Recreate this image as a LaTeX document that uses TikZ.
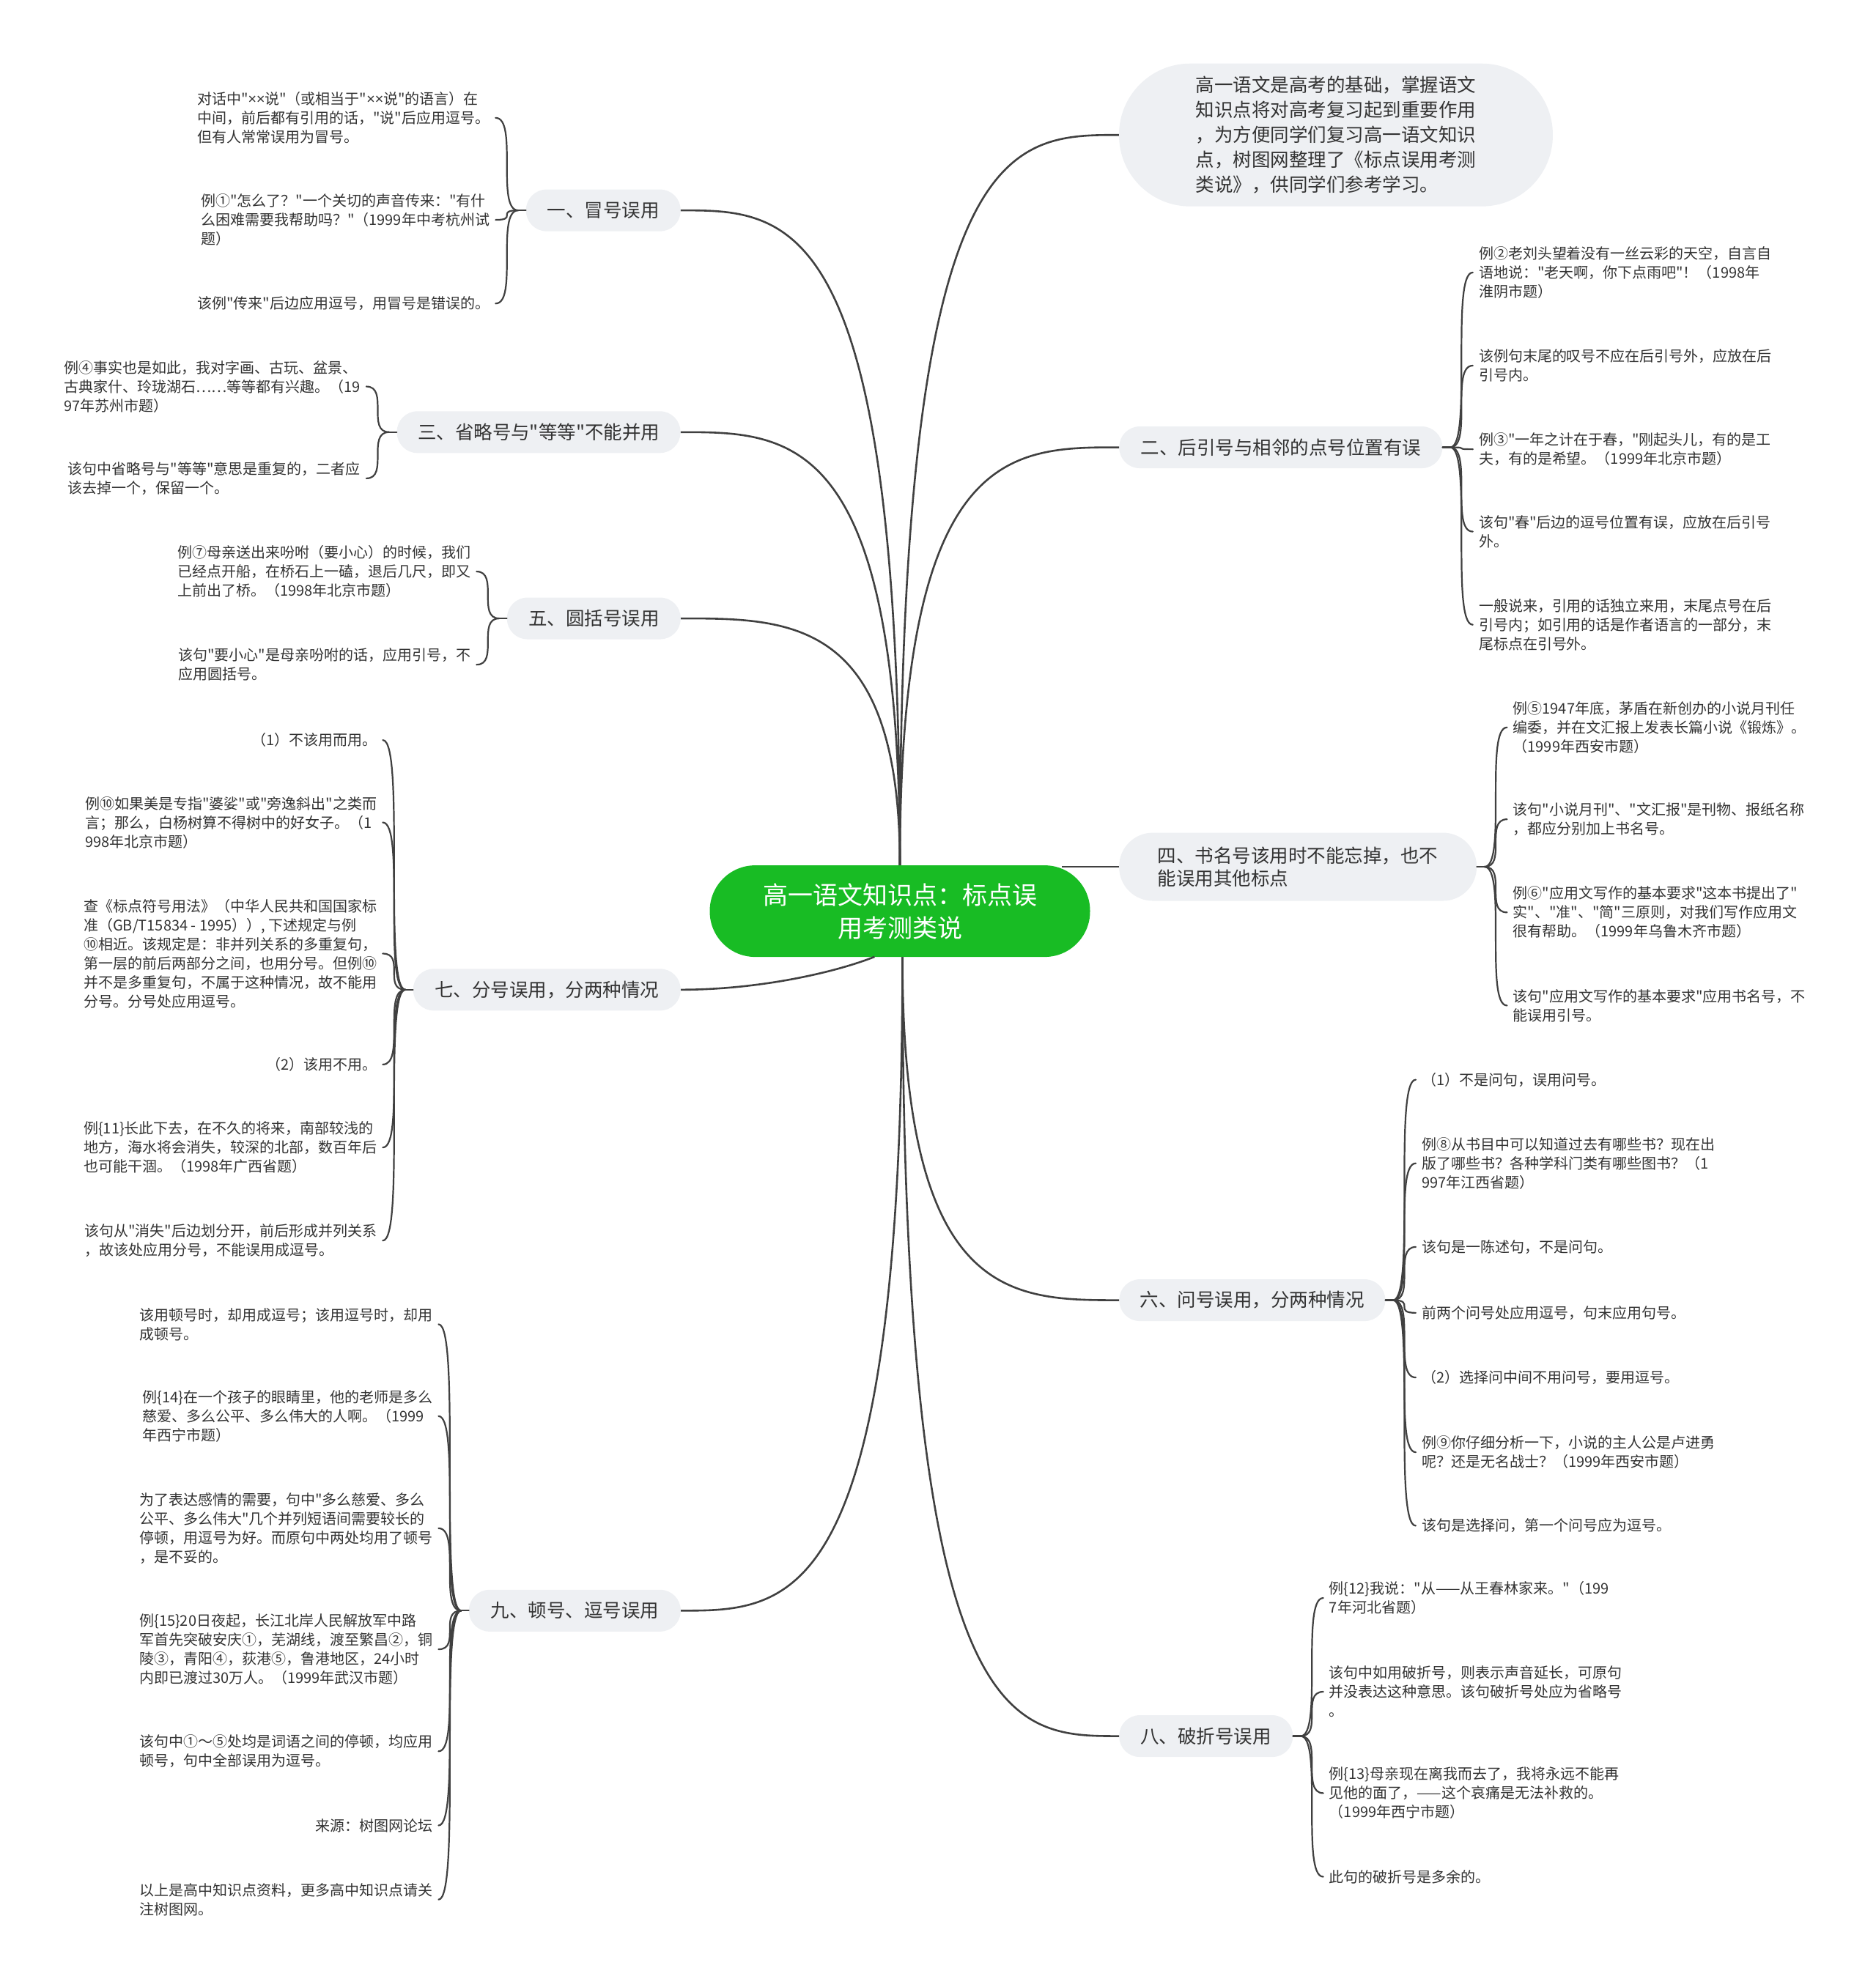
\documentclass[tikz,border=0pt]{standalone}
\usepackage{fontspec}
\newfontfamily\cjk{Noto Sans CJK SC}
\newfontfamily\latn{Noto Sans}
\usetikzlibrary{calc}
\definecolor{txt}{HTML}{333333}
\definecolor{pillbg}{HTML}{EEF0F3}
\definecolor{lnc}{HTML}{404040}
\definecolor{cgreen}{RGB}{24,188,36}
\newcommand\mbranch[2]{\draw[mainln] (#1) .. controls (#1 |- #2) and ($(#1 |- #2)!0.5!(#2)$) .. (#2);}
\newcommand\brkto[2]{\draw[brkln] (#1) .. controls (#2 |- #1) and (#1 |- #2) .. (#2);}
\newcommand\xx{{\latn ××}}
\begin{document}
\begin{tikzpicture}[x=1.7297pt,y=-1.7297pt,
  leaf/.style={font=\cjk\fontsize{20}{26}\selectfont, text=txt, align=left, inner xsep=8pt, inner ysep=0pt},
  leafl/.style={leaf, anchor=east},
  leafr/.style={leaf, anchor=west},
  pill/.style={fill=pillbg, rounded corners=28pt, minimum height=57pt, inner sep=0pt, align=center, font=\cjk\fontsize{25.5}{31}\selectfont, text=txt},
  cpill/.style={fill=cgreen, rounded corners=62pt, minimum height=125pt, minimum width=519pt, inner sep=0pt, align=center, font=\cjk\fontsize{34}{45}\selectfont, text=white},
  mainln/.style={draw=lnc, line width=2.6pt},
  brkln/.style={draw=lnc, line width=2.2pt, line cap=round}]
\useasboundingbox (0,0) rectangle (1480,1568);

% center
\node[cpill] (c) at (710,719) {高一语文知识点：标点误\\用考测类说};
\coordinate (ctop) at (c.north);
\coordinate (cbot) at ($(c.south)+(2,0)$);
\coordinate (c7) at (690,755);
\coordinate (c4) at (838,684);

% branch nodes
\node[pill, minimum width=211pt] (b1) at (476,166) {一、冒号误用};
\node[pill, minimum width=387pt] (b3) at (425,341) {三、省略号与"等等"不能并用};
\node[pill, minimum width=237pt] (b5) at (468.5,488) {五、圆括号误用};
\node[pill, minimum width=365pt] (b7) at (431.5,781) {七、分号误用，分两种情况};
\node[pill, minimum width=289pt] (b9) at (453.5,1271) {九、顿号、逗号误用};
\node[pill, minimum width=592pt, minimum height=195pt, rounded corners=97pt, align=left, font=\cjk\fontsize{25.5}{34}\selectfont] (intro) at (1054,106.5) {高一语文是高考的基础，掌握语文\\知识点将对高考复习起到重要作用\\，为方便同学们复习高一语文知识\\点，树图网整理了《标点误用考测\\类说》，供同学们参考学习。};
\node[pill, minimum width=441pt] (b2) at (1010.5,353) {二、后引号与相邻的点号位置有误};
\node[pill, minimum width=488pt, minimum height=93pt, rounded corners=46pt, align=left] (b4) at (1024,684) {四、书名号该用时不能忘掉，也不\\能误用其他标点};
\node[pill, minimum width=363pt] (b6) at (988,1026) {六、问号误用，分两种情况};
\node[pill, minimum width=237pt] (b8) at (951.5,1370) {八、破折号误用};

% main connectors
\mbranch{ctop}{b1.east}
\mbranch{ctop}{b3.east}
\mbranch{ctop}{b5.east}
\mbranch{ctop}{intro.west}
\mbranch{ctop}{b2.west}
\mbranch{cbot}{b6.west}
\mbranch{cbot}{b8.west}
\mbranch{cbot}{b9.east}
\draw[mainln] (c7) .. controls (660,767) and (600,781) .. (b7.east);
\draw[mainln] (c4) -- (b4.west);

% ---- group 1
\node[leafl] (l1a) at (391,93) {对话中"\xx 说"（或相当于"\xx 说"的语言）在\\中间，前后都有引用的话，"说"后应用逗号。\\但有人常常误用为冒号。};
\node[leafl] (l1b) at (391,173.5) {例①"怎么了？"一个关切的声音传来："有什\\么困难需要我帮助吗？"（1999年中考杭州试\\题）};
\node[leafl] (l1c) at (391,239.5) {该例"传来"后边应用逗号，用冒号是错误的。};
\coordinate (j1) at ($(b1.west)+(-6,0)$);
\draw[brkln] (b1.west) -- (j1);
\foreach \n in {l1a,l1b,l1c} {\brkto{j1}{\n.east}}

% ---- group 3
\node[leafl] (l3a) at (289,305) {例④事实也是如此，我对字画、古玩、盆景、\\古典家什、玲珑湖石……等等都有兴趣。（19\\97年苏州市题）};
\node[leafl] (l3b) at (289,377.5) {该句中省略号与"等等"意思是重复的，二者应\\该去掉一个，保留一个。};
\coordinate (j3) at ($(b3.west)+(-6,0)$);
\draw[brkln] (b3.west) -- (j3);
\foreach \n in {l3a,l3b} {\brkto{j3}{\n.east}}

% ---- group 5
\node[leafl] (l5a) at (376,451) {例⑦母亲送出来吩咐（要小心）的时候，我们\\已经点开船，在桥石上一磕，退后几尺，即又\\上前出了桥。（1998年北京市题）};
\node[leafl] (l5b) at (376,524.5) {该句"要小心"是母亲吩咐的话，应用引号，不\\应用圆括号。};
\coordinate (j5) at ($(b5.west)+(-6,0)$);
\draw[brkln] (b5.west) -- (j5);
\foreach \n in {l5a,l5b} {\brkto{j5}{\n.east}}

% ---- group 7
\node[leafl] (l7a) at (302,584) {（1）不该用而用。};
\node[leafl] (l7b) at (302,649) {例⑩如果美是专指"婆娑"或"旁逸斜出"之类而\\言；那么，白杨树算不得树中的好女子。（1\\998年北京市题）};
\node[leafl] (l7c) at (302,752.5) {查《标点符号用法》（中华人民共和国国家标\\准（GB/T15834 - 1995））, 下述规定与例\\⑩相近。该规定是：非并列关系的多重复句，\\第一层的前后两部分之间，也用分号。但例⑩\\并不是多重复句，不属于这种情况，故不能用\\分号。分号处应用逗号。};
\node[leafl] (l7d) at (302,840) {（2）该用不用。};
\node[leafl] (l7e) at (302,905.5) {例\{11\}长此下去，在不久的将来，南部较浅的\\地方，海水将会消失，较深的北部，数百年后\\也可能干涸。（1998年广西省题）};
\node[leafl] (l7f) at (302,979) {该句从"消失"后边划分开，前后形成并列关系\\，故该处应用分号，不能误用成逗号。};
\coordinate (j7) at ($(b7.west)+(-6,0)$);
\draw[brkln] (b7.west) -- (j7);
\foreach \n in {l7a,l7b,l7c,l7d,l7e,l7f} {\brkto{j7}{\n.east}}

% ---- group 9
\node[leafl] (l9a) at (346,1045) {该用顿号时，却用成逗号；该用逗号时，却用\\成顿号。};
\node[leafl] (l9b) at (346,1117.5) {例\{14\}在一个孩子的眼睛里，他的老师是多么\\慈爱、多么公平、多么伟大的人啊。（1999\\年西宁市题）};
\node[leafl] (l9c) at (346,1206) {为了表达感情的需要，句中"多么慈爱、多么\\公平、多么伟大"几个并列短语间需要较长的\\停顿，用逗号为好。而原句中两处均用了顿号\\，是不妥的。};
\node[leafl] (l9d) at (346,1301.5) {例\{15\}20日夜起，长江北岸人民解放军中路\\军首先突破安庆①，芜湖线，渡至繁昌②，铜\\陵③，青阳④，荻港⑤，鲁港地区，24小时\\内即已渡过30万人。（1999年武汉市题）};
\node[leafl] (l9e) at (346,1382) {该句中①～⑤处均是词语之间的停顿，均应用\\顿号，句中全部误用为逗号。};
\node[leafl] (l9f) at (346,1440.5) {来源：树图网论坛};
\node[leafl] (l9g) at (346,1499) {以上是高中知识点资料，更多高中知识点请关\\注树图网。};
\coordinate (j9) at ($(b9.west)+(-6,0)$);
\draw[brkln] (b9.west) -- (j9);
\foreach \n in {l9a,l9b,l9c,l9d,l9e,l9f,l9g} {\brkto{j9}{\n.east}}

% ---- group 2
\node[leafr] (r2a) at (1162,215) {例②老刘头望着没有一丝云彩的天空，自言自\\语地说："老天啊，你下点雨吧"！（1998年\\淮阴市题）};
\node[leafr] (r2b) at (1162,288.5) {该例句末尾的叹号不应在后引号外，应放在后\\引号内。};
\node[leafr] (r2c) at (1162,354.5) {例③"一年之计在于春，"刚起头儿，有的是工\\夫，有的是希望。（1999年北京市题）};
\node[leafr] (r2d) at (1162,419.5) {该句"春"后边的逗号位置有误，应放在后引号\\外。};
\node[leafr] (r2e) at (1162,493) {一般说来，引用的话独立来用，末尾点号在后\\引号内；如引用的话是作者语言的一部分，末\\尾标点在引号外。};
\coordinate (j2) at ($(b2.east)+(6,0)$);
\draw[brkln] (b2.east) -- (j2);
\foreach \n in {r2a,r2b,r2c,r2d,r2e} {\brkto{j2}{\n.west}}

% ---- group 4
\node[leafr] (r4a) at (1189,574) {例⑤1947年底，茅盾在新创办的小说月刊任\\编委，并在文汇报上发表长篇小说《锻炼》。\\（1999年西安市题）};
\node[leafr] (r4b) at (1189,646.5) {该句"小说月刊"、"文汇报"是刊物、报纸名称\\，都应分别加上书名号。};
\node[leafr] (r4c) at (1189,720) {例⑥"应用文写作的基本要求"这本书提出了"\\实"、"准"、"简"三原则，对我们写作应用文\\很有帮助。（1999年乌鲁木齐市题）};
\node[leafr] (r4d) at (1189,793.5) {该句"应用文写作的基本要求"应用书名号，不\\能误用引号。};
\coordinate (j4) at ($(b4.east)+(6,0)$);
\draw[brkln] (b4.east) -- (j4);
\foreach \n in {r4a,r4b,r4c,r4d} {\brkto{j4}{\n.west}}

% ---- group 6
\node[leafr] (r6a) at (1117,852) {（1）不是问句，误用问号。};
\node[leafr] (r6b) at (1117,918) {例⑧从书目中可以知道过去有哪些书？现在出\\版了哪些书？各种学科门类有哪些图书？（1\\997年江西省题）};
\node[leafr] (r6c) at (1117,984) {该句是一陈述句，不是问句。};
\node[leafr] (r6d) at (1117,1036) {前两个问号处应用逗号，句末应用句号。};
\node[leafr] (r6e) at (1117,1087) {（2）选择问中间不用问号，要用逗号。};
\node[leafr] (r6f) at (1117,1146) {例⑨你仔细分析一下，小说的主人公是卢进勇\\呢？还是无名战士？（1999年西安市题）};
\node[leafr] (r6g) at (1117,1204) {该句是选择问，第一个问号应为逗号。};
\coordinate (j6) at ($(b6.east)+(6,0)$);
\draw[brkln] (b6.east) -- (j6);
\foreach \n in {r6a,r6b,r6c,r6d,r6e,r6f,r6g} {\brkto{j6}{\n.west}}

% ---- group 8
\node[leafr] (r8a) at (1044,1261) {例\{12\}我说："从——从王春林家来。"（199\\7年河北省题）};
\node[leafr] (r8b) at (1044,1335) {该句中如用破折号，则表示声音延长，可原句\\并没表达这种意思。该句破折号处应为省略号\\。};
\node[leafr] (r8c) at (1044,1415) {例\{13\}母亲现在离我而去了，我将永远不能再\\见他的面了，——这个哀痛是无法补救的。\\（1999年西宁市题）};
\node[leafr] (r8d) at (1044,1481) {此句的破折号是多余的。};
\coordinate (j8) at ($(b8.east)+(6,0)$);
\draw[brkln] (b8.east) -- (j8);
\foreach \n in {r8a,r8b,r8c,r8d} {\brkto{j8}{\n.west}}
\end{tikzpicture}
\end{document}
